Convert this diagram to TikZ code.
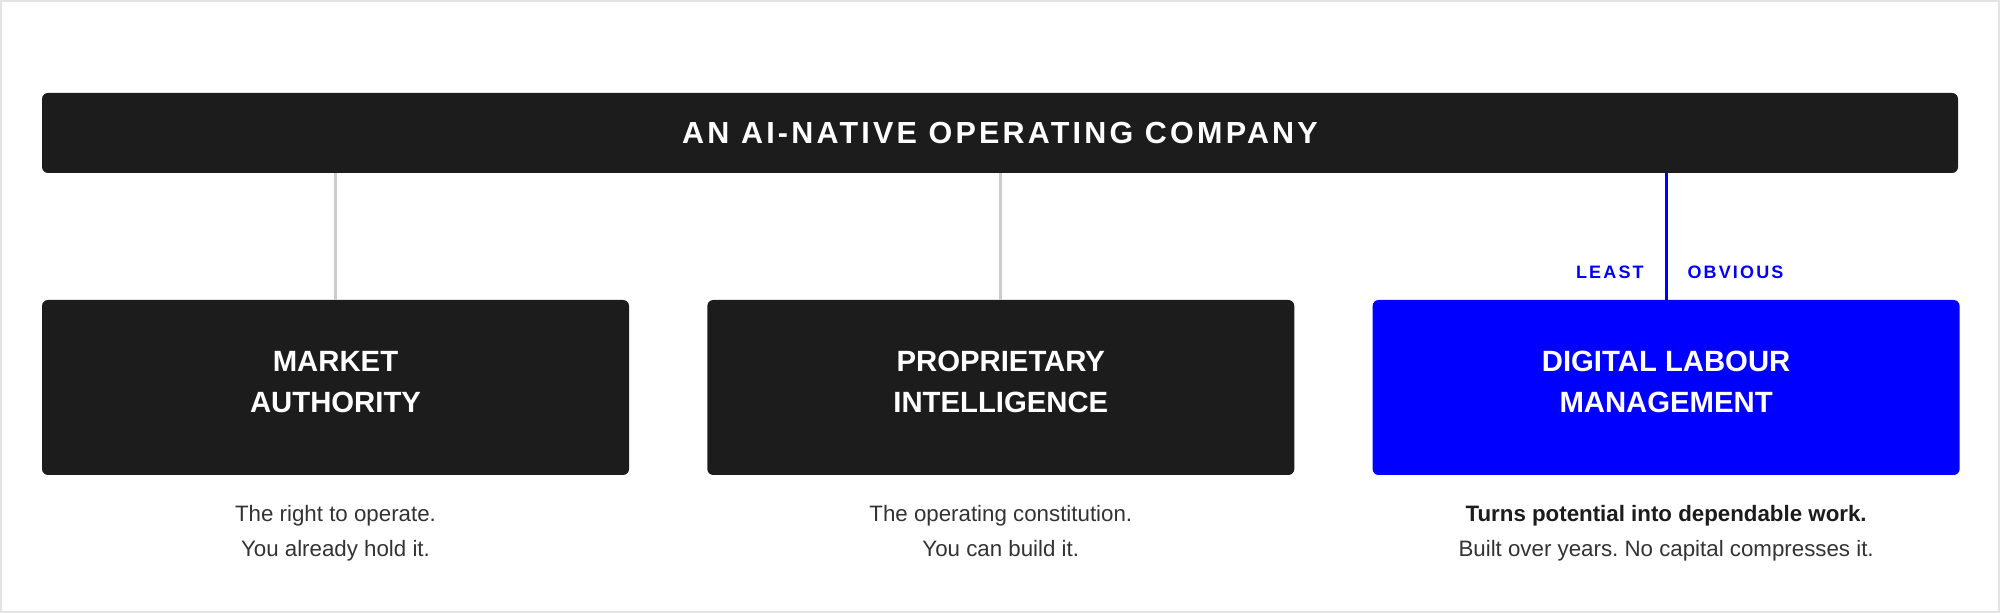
\documentclass[tikz,border=0pt]{standalone}
\usepackage{fontspec}
\setmainfont{Liberation Sans}
\newfontfamily\bannerfont[LetterSpace=10.5]{Liberation Sans}
\newfontfamily\tagfont[LetterSpace=12]{Liberation Sans}
\usetikzlibrary{positioning}
\definecolor{ink}{HTML}{1C1C1C}
\definecolor{pureblue}{HTML}{0000FF}
\definecolor{wire}{HTML}{CCCCCC}
\definecolor{rim}{HTML}{E4E4E4}
\definecolor{note}{HTML}{333333}
\frenchspacing

\begin{document}
\begin{tikzpicture}[x=0.5pt, y=-0.5pt,
        banner/.style={rectangle, rounded corners=3pt, fill=ink, text=white,
            minimum width=958pt, minimum height=40pt,
            font=\bannerfont\bfseries\fontsize{15.25}{18}\selectfont},
        pillar/.style={rectangle, rounded corners=3pt, fill=ink, text=white,
            minimum width=293.5pt, minimum height=87.5pt, align=center, text depth=6pt,
            font=\bfseries\fontsize{14.65}{20.5}\selectfont},
        caption/.style={inner sep=0pt, align=center, text=note,
            font=\fontsize{11.15}{17.5}\selectfont},
        tag/.style={inner sep=0pt, text=pureblue,
            font=\tagfont\bfseries\fontsize{9}{11}\selectfont},
        link/.style={draw=wire, line width=1.4pt},
        node distance=38.75pt]
    \fill[white] (0,0) rectangle (2000,613);
    \draw[rim, line width=1pt] (1,1) rectangle (1999,612);
    \useasboundingbox (0,0) rectangle (2000,613);

    \node[banner] (core) at (1000,133) {AN AI-NATIVE OPERATING COMPANY};
    \node[pillar] (mkt) at (335.5,387.5) {MARKET\\AUTHORITY};
    \node[pillar, right=of mkt] (intel) {PROPRIETARY\\INTELLIGENCE};
    \node[pillar, right=of intel, fill=pureblue] (labour) {DIGITAL LABOUR\\MANAGEMENT};

    \draw[link] (mkt.north |- core.south) -- (mkt.north);
    \draw[link] (intel.north |- core.south) -- (intel.north);
    \draw[link, draw=pureblue] (labour.north |- core.south) -- (labour.north);

    \node[tag, anchor=base east] (least) at ([shift={(-11pt,10.5pt)}]labour.north) {LEAST};
    \node[tag, anchor=base west] (obvious) at ([shift={(10.5pt,10.5pt)}]labour.north) {OBVIOUS};

    \node[caption, below=15pt of mkt] (mktnote) {The right to operate.\\You already hold it.};
    \node[caption, below=15pt of intel] (intelnote) {The operating constitution.\\You can build it.};
    \node[caption, below=15pt of labour] (labournote)
        {{\color{ink}\bfseries Turns potential into dependable work.}\\Built over years. No capital compresses it.};
\end{tikzpicture}
\end{document}
